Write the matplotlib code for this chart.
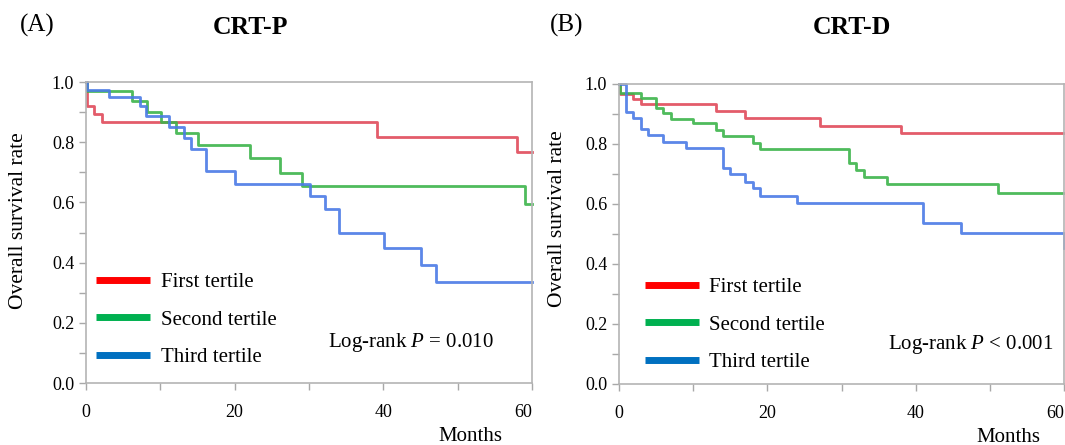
import matplotlib
matplotlib.use("Agg")
import matplotlib.pyplot as plt
from matplotlib.lines import Line2D

plt.rcParams['font.family'] = ['Liberation Serif', 'DejaVu Serif']
plt.rcParams['mathtext.fontset'] = 'custom'
plt.rcParams['mathtext.rm'] = 'Liberation Serif'
plt.rcParams['mathtext.it'] = 'Liberation Serif:italic'

# survival steps: (months, survival after the event)
crtp_first_t = [0, 0.1, 1.1, 2.2, 39.1, 58.0, 60]
crtp_first_s = [1.0, 0.921, 0.894, 0.866, 0.816, 0.766, 0.766]
crtp_second_t = [0, 0.1, 6.15, 8.2, 10.1, 12.1, 15.1, 22.1, 26.1, 29.1, 59.1, 60]
crtp_second_s = [1.0, 0.969, 0.938, 0.899, 0.866, 0.830, 0.791, 0.747, 0.699, 0.654, 0.594, 0.594]
crtp_third_t = [0, 0.2, 3.1, 7.2, 8.1, 11.1, 13.2, 14.1, 16.1, 20.0, 30.1, 32.1, 34.0,
                40.1, 45.1, 47.1, 60]
crtp_third_s = [1.0, 0.974, 0.950, 0.919, 0.888, 0.850, 0.814, 0.777, 0.703, 0.661, 0.620,
                0.578, 0.498, 0.448, 0.392, 0.337, 0.337]

crtd_first_t = [0, 0.1, 1.9, 2.9, 13.05, 17.0, 27.1, 38.0, 60]
crtd_first_s = [1.0, 0.967, 0.949, 0.932, 0.909, 0.886, 0.861, 0.836, 0.836]
crtd_second_t = [0, 0.1, 3.0, 5.0, 5.95, 7.0, 10.0, 13.05, 14.0, 18.0, 19.0, 31.0, 32.0,
                 33.05, 36.1, 51.05, 60]
crtd_second_s = [1.0, 0.969, 0.952, 0.919, 0.902, 0.884, 0.869, 0.847, 0.827, 0.804, 0.782,
                 0.737, 0.714, 0.691, 0.667, 0.636, 0.636]
crtd_third_t = [0, 0.9, 1.9, 2.9, 3.9, 5.95, 9.0, 14.0, 14.9, 17.0, 18.0, 19.0, 24.0, 41.0,
                46.1, 60]
crtd_third_s = [1.0, 0.906, 0.886, 0.849, 0.829, 0.807, 0.788, 0.719, 0.699, 0.674, 0.652,
                0.627, 0.602, 0.536, 0.502, 0.452]

labels = ["First tertile", "Second tertile", "Third tertile"]
curve_colors = ["#e04a5a", "#3cb44a", "#4a7ae6"]
legend_colors = ["#ff0000", "#00b050", "#0070c0"]

W, H = 1065, 445
fig = plt.figure(figsize=(W / 100, H / 100), dpi=100)


def panel(rect, curves, ptext, ptext_x, ptext_ha, leg_anchor, xlab_pos, ylab_pos):
    ax = fig.add_axes(rect)
    for (t, s), c in zip(curves, curve_colors):
        ax.step(t, s, where='post', color=c, lw=2.0, alpha=0.9, clip_on=False)
    ax.set_xlim(0, 60)
    ax.set_ylim(0, 1.0)
    ax.set_xticks([0, 10, 20, 30, 40, 50, 60])
    ax.set_xticklabels(["0", "", "20", "", "40", "", "60"])
    ax.set_yticks([i / 10 for i in range(11)])
    ax.set_yticklabels(["0.0", "", "0.2", "", "0.4", "", "0.6", "", "0.8", "", "1.0"])
    ax.xaxis.get_ticklabels()[-1].set_ha('right')
    ax.xaxis.get_ticklabels()[-1].set_x(60.6)
    for sp in ax.spines.values():
        sp.set_color('#b4b4b4')
        sp.set_linewidth(1.2)
    ax.tick_params(axis='x', length=5, width=1, color='#a8a8a8', pad=10, labelsize=13)
    ax.tick_params(axis='y', length=5, width=1, color='#a8a8a8', pad=3.5, labelsize=13)

    handles = [Line2D([], [], color=c, lw=5, solid_capstyle='butt') for c in legend_colors]
    ax.legend(handles, labels, loc='lower left', bbox_to_anchor=leg_anchor, frameon=False,
              fontsize=15, handlelength=2.6, handletextpad=0.5, labelspacing=0.85,
              borderpad=0, borderaxespad=0)

    ax.text(ptext_x, 0.133, ptext, transform=ax.transAxes, ha=ptext_ha, va='center', fontsize=15)

    ax.set_xlabel("Months", fontsize=15, va='center')
    ax.xaxis.set_label_coords(*xlab_pos)
    ax.set_ylabel("Overall survival rate", fontsize=15.5, va='center')
    ax.yaxis.set_label_coords(*ylab_pos)
    return ax


panel([86 / W, 1 - 383 / H, 446 / W, 301 / H],
      [(crtp_first_t, crtp_first_s), (crtp_second_t, crtp_second_s), (crtp_third_t, crtp_third_s)],
      r"Log-rank $\it{P}$ = 0.010", 0.729, 'center', (0.023, 0.053),
      (0.861, -0.179), (-0.152, 0.54))

panel([619 / W, 1 - 384 / H, 445 / W, 300 / H],
      [(crtd_first_t, crtd_first_s), (crtd_second_t, crtd_second_s), (crtd_third_t, crtd_third_s)],
      r"Log-rank $\it{P}$ < 0.001", 0.9775, 'right', (0.0575, 0.04),
      (0.874, -0.177), (-0.139, 0.55))

fig.text(37 / W, 1 - 25 / H, "(A)", ha='center', va='center', fontsize=18)
fig.text(250 / W, 1 - 28 / H, "CRT-P", ha='center', va='center', fontsize=18.5, fontweight='bold')
fig.text(567 / W, 1 - 25 / H, "(B)", ha='center', va='center', fontsize=18)
fig.text(852 / W, 1 - 28 / H, "CRT-D", ha='center', va='center', fontsize=18.5, fontweight='bold')

fig.savefig("out.png", dpi=100)
